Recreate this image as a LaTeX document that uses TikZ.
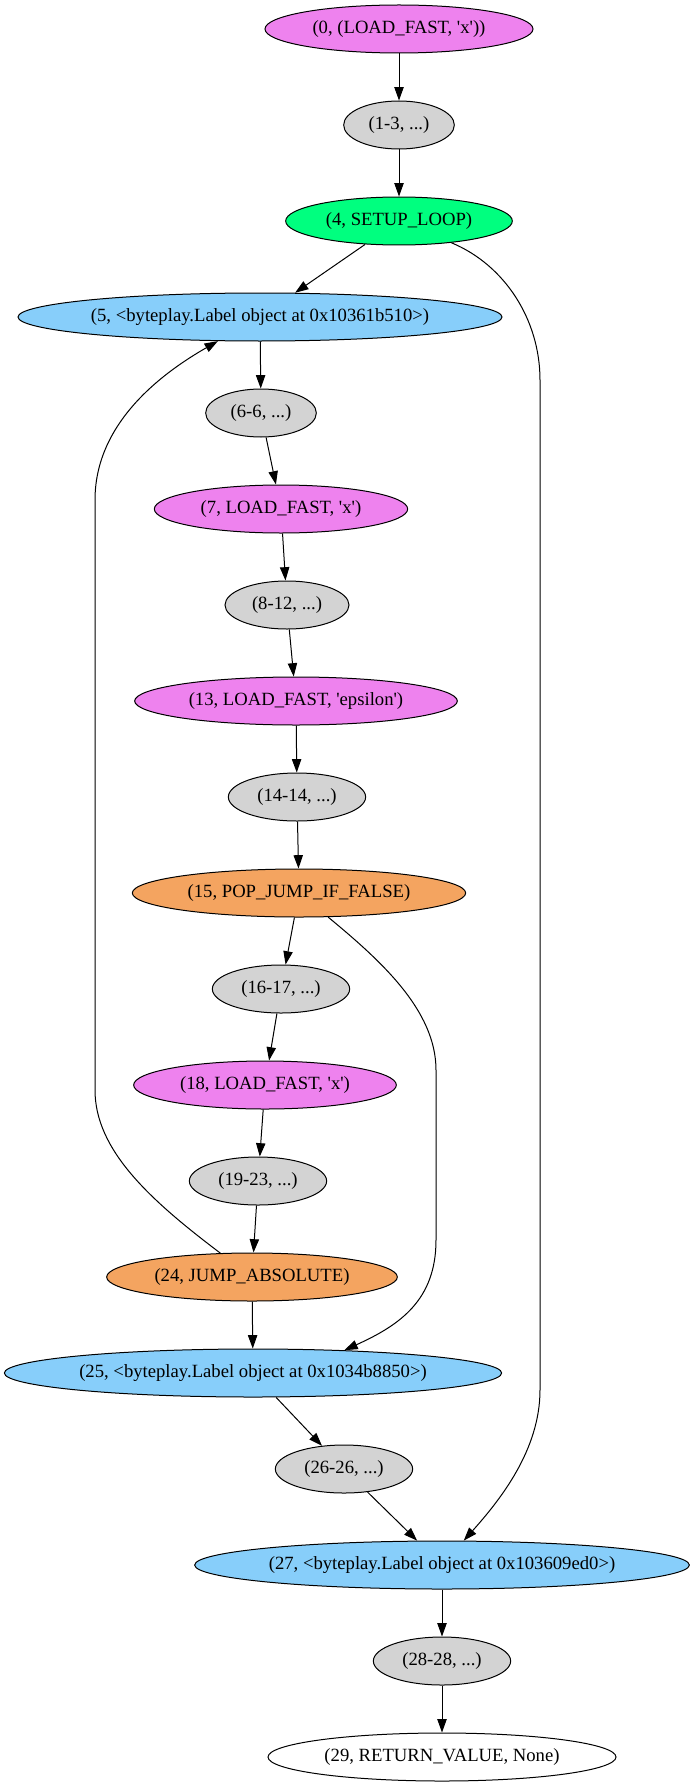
\documentclass[tikz,border=0pt]{standalone}
\usepackage{fontspec}
\newfontfamily\gvfont{Liberation Serif}
\usetikzlibrary{arrows.meta, shapes.geometric}
\definecolor{gvviolet}{HTML}{EE82EE}
\definecolor{gvgrey}{HTML}{D3D3D3}
\definecolor{gvgreen}{HTML}{00FF7F}
\definecolor{gvblue}{HTML}{87CEFA}
\definecolor{gvorange}{HTML}{F4A460}
\begin{document}
\begin{tikzpicture}[x=0.75pt, y=-0.75pt,
        op/.style={draw, line width=0.75pt, ellipse, inner xsep=0pt, minimum height=36pt, font=\gvfont\fontsize{14}{16}\selectfont},
        edge/.style={draw, line width=0.75pt, -{Triangle[length=10pt, width=7pt]}}]
%        \draw[red] (0,0) rectangle (691,1787);
        \useasboundingbox (0,0) rectangle (691,1787);

        \node[op, fill=gvviolet, minimum width=201pt] (n0) at (399,29) {(0, (LOAD\_FAST, 'x'))};
        \node[op, fill=gvgrey, minimum width=83pt] (n1) at (399,125) {(1-3, ...)};
        \node[op, fill=gvgreen, minimum width=170pt] (n4) at (399,221) {(4, SETUP\_LOOP)};
        \node[op, fill=gvblue, minimum width=363pt] (n5) at (260,317) {(5, <byteplay.Label object at 0x10361b510>)};
        \node[op, fill=gvgrey, minimum width=83pt] (n6) at (261,413) {(6-6, ...)};
        \node[op, fill=gvviolet, minimum width=190pt] (n7) at (281,509) {(7, LOAD\_FAST, 'x')};
        \node[op, fill=gvgrey, minimum width=93pt] (n8) at (287,605) {(8-12, ...)};
        \node[op, fill=gvviolet, minimum width=242pt] (n13) at (296,701) {(13, LOAD\_FAST, 'epsilon')};
        \node[op, fill=gvgrey, minimum width=103pt] (n14) at (297,797) {(14-14, ...)};
        \node[op, fill=gvorange, minimum width=250pt] (n15) at (299,893) {(15, POP\_JUMP\_IF\_FALSE)};
        \node[op, fill=gvgrey, minimum width=103pt] (n16) at (281,989) {(16-17, ...)};
        \node[op, fill=gvviolet, minimum width=197pt] (n18) at (265,1085) {(18, LOAD\_FAST, 'x')};
        \node[op, fill=gvgrey, minimum width=103pt] (n19) at (258,1181) {(19-23, ...)};
        \node[op, fill=gvorange, minimum width=218pt] (n24) at (252,1277) {(24, JUMP\_ABSOLUTE)};
        \node[op, fill=gvblue, minimum width=373pt] (n25) at (253,1373) {(25, <byteplay.Label object at 0x1034b8850>)};
        \node[op, fill=gvgrey, minimum width=103pt] (n26) at (344,1469) {(26-26, ...)};
        \node[op, fill=gvblue, minimum width=371pt] (n27) at (442,1565) {(27, <byteplay.Label object at 0x103609ed0>)};
        \node[op, fill=gvgrey, minimum width=103pt] (n28) at (442,1661) {(28-28, ...)};
        \node[op, fill=white, minimum width=261pt] (n29) at (442,1757) {(29, RETURN\_VALUE, None)};

        \draw[edge] (n0) -- (n1);\draw[edge] (n1) -- (n4);\draw[edge] (n4) -- (n5);
        \draw[edge] (n5) -- (n6);\draw[edge] (n6) -- (n7);\draw[edge] (n7) -- (n8);
        \draw[edge] (n8) -- (n13);\draw[edge] (n13) -- (n14);\draw[edge] (n14) -- (n15);
        \draw[edge] (n15) -- (n16);\draw[edge] (n16) -- (n18);\draw[edge] (n18) -- (n19);
        \draw[edge] (n19) -- (n24);\draw[edge] (n24) -- (n25);\draw[edge] (n25) -- (n26);
        \draw[edge] (n26) -- (n27);\draw[edge] (n27) -- (n28);\draw[edge] (n28) -- (n29);

        % loop exit, back jump and false branch
        \draw[edge] (n4) .. controls (505,265) and (540,320) .. (540,380) -- (540,1390) .. controls (540,1450) and (500,1500) .. (n27);
        \draw[edge] (n24) .. controls (150,1200) and (95,1150) .. (95,1090) -- (95,500) .. controls (95,430) and (150,380) .. (n5);
        \draw[edge] (n15) .. controls (380,960) and (436,1010) .. (436,1070) -- (436,1240) .. controls (436,1300) and (400,1325) .. (n25.14);

    \end{tikzpicture}
\end{document}
